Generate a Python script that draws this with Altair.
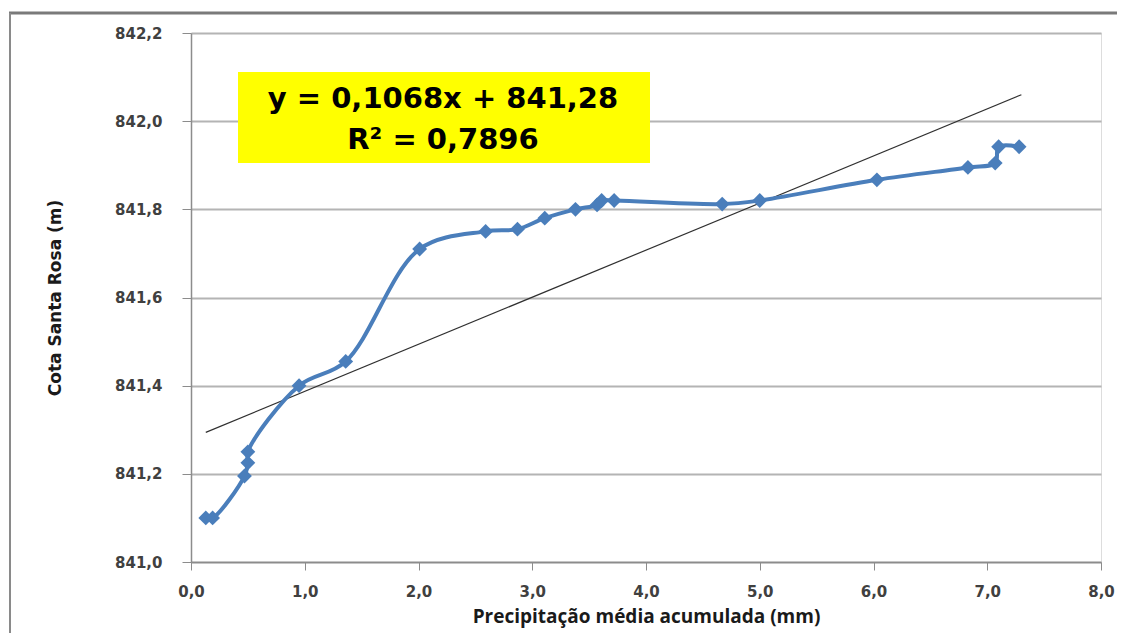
import altair as alt
import pandas as pd

# data
precip = [0.13, 0.19, 0.47, 0.50, 0.50, 0.95, 1.36, 2.01, 2.59, 2.87, 3.11, 3.38,
          3.57, 3.61, 3.72, 4.67, 5.00, 6.03, 6.83, 7.07, 7.10, 7.28]
cota = [841.10, 841.10, 841.195, 841.225, 841.25, 841.40, 841.455, 841.71, 841.75,
        841.755, 841.78, 841.80, 841.81, 841.82, 841.82, 841.812, 841.82, 841.867,
        841.895, 841.905, 841.942, 841.942]
trend_x = [0.13, 7.30]
trend_y = [841.294, 842.060]
equation_lines = ["y = 0,1068x + 841,28", "R² = 0,7896"]
x_ticks = [0, 1, 2, 3, 4, 5, 6, 7, 8]
y_ticks = [841.0, 841.2, 841.4, 841.6, 841.8, 842.0, 842.2]

df = pd.DataFrame({"x": precip, "y": cota, "ord": list(range(len(precip)))})
trend = pd.DataFrame({"x": trend_x, "y": trend_y})
eq = pd.DataFrame({"t": equation_lines, "yy": [66, 107]})

W, H = 910, 529
xs = alt.Scale(domain=[0, 8], nice=False, zero=False)
ys = alt.Scale(domain=[841.0, 842.2], nice=False, zero=False)

xaxis = alt.Axis(values=x_ticks, labelExpr="replace(format(datum.value,'.1f'),'.',',')",
                 title="Precipitação média acumulada (mm)", grid=False, labelFlush=False,
                 domainColor="#8c8c8c", domainWidth=1.5, tickColor="#8c8c8c", tickSize=8,
                 labelFont="DejaVu Sans", labelFontWeight="bold", labelFontSize=15,
                 labelColor="#404040", labelPadding=14,
                 titleFont="Open Sans", titleFontWeight="bold", titleFontSize=19,
                 titleColor="#1a1a1a", titlePadding=8)
yaxis = alt.Axis(values=y_ticks, labelExpr="replace(format(datum.value,'.1f'),'.',',')",
                 title="Cota Santa Rosa (m)", grid=True, gridColor="#b4b4b4", gridWidth=2,
                 labelFlush=False,
                 domainColor="#8c8c8c", domainWidth=1.5, tickColor="#8c8c8c", tickSize=9,
                 labelFont="DejaVu Sans", labelFontWeight="bold", labelFontSize=15,
                 labelColor="#404040", labelPadding=20,
                 titleFont="DejaVu Sans", titleFontWeight="bold", titleFontSize=17,
                 titleColor="#1a1a1a", titlePadding=50)

base = alt.Chart(df)
line = base.mark_line(color="#4a7ebb", strokeWidth=4, interpolate="catmull-rom").encode(
    x=alt.X("x:Q", scale=xs, axis=xaxis),
    y=alt.Y("y:Q", scale=ys, axis=yaxis),
    order="ord:Q",
)
pts = base.mark_point(shape="diamond", filled=True, size=220, color="#4a7ebb", opacity=1).encode(
    x=alt.X("x:Q", scale=xs), y=alt.Y("y:Q", scale=ys)
)
trend_line = alt.Chart(trend).mark_line(color="#303030", strokeWidth=1.2).encode(
    x=alt.X("x:Q", scale=xs), y=alt.Y("y:Q", scale=ys)
)
box = alt.Chart(eq.head(1)).mark_rect(color="#ffff00").encode(
    x=alt.value(47), x2=alt.value(459), y=alt.value(39), y2=alt.value(130)
)
txt = alt.Chart(eq).mark_text(font="DejaVu Sans", fontWeight="bold", fontSize=29,
                              color="#000000", align="center", baseline="middle").encode(
    x=alt.value(252), y=alt.Y("yy:Q", scale=None), text="t:N"
)
frame_top = alt.Chart(eq.head(1)).mark_rule(color="#7a7a7a", strokeWidth=3).encode(
    x=alt.value(-182), x2=alt.value(930), y=alt.value(-20)
)
frame_left = alt.Chart(eq.head(1)).mark_rule(color="#8a8a8a", strokeWidth=2).encode(
    x=alt.value(-181), y=alt.value(-20), y2=alt.value(610)
)

chart = alt.layer(frame_top, frame_left, trend_line, line, pts, box, txt).properties(
    width=W, height=H, autosize="none",
    padding={"left": 183, "top": 25, "right": 16, "bottom": 71},
).configure_view(strokeWidth=0).configure(background="white")

chart.save("out.html", embed_options={"renderer": "svg", "actions": False})
